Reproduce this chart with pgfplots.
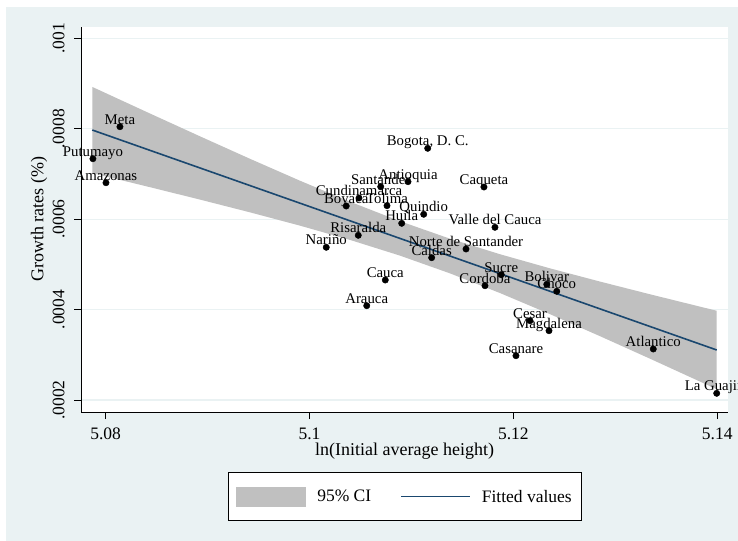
\documentclass[border=0pt]{standalone}
\usepackage{pgfplots}
\pgfplotsset{compat=1.18}
\usepackage{pgfplotstable}
\usepackage{fontspec}
\setmainfont{Liberation Serif}
\definecolor{bgc}{HTML}{EAF2F3}
\definecolor{gridc}{HTML}{EAF2F3}
\definecolor{cigray}{HTML}{C0C0C0}
\definecolor{fitc}{HTML}{1A476F}
\pgfplotstableread[col sep=semicolon]{
x;y;label
5.07875;0.0007337;Putumayo
5.08140;0.0008045;Meta
5.08003;0.0006806;Amazonas
5.11159;0.0007567;Bogota, D. C.
5.10698;0.0006718;Santander
5.10966;0.0006829;Antioquia
5.11711;0.0006711;Caqueta
5.10485;0.0006468;Cundinamarca
5.10360;0.0006291;Boyaca
5.10760;0.0006298;Tolima
5.11120;0.0006108;Quindio
5.10904;0.0005908;Huila
5.11819;0.0005820;Valle del Cauca
5.10478;0.0005643;Risaralda
5.10164;0.0005378;Nariño
5.11535;0.0005340;Norte de Santander
5.11198;0.0005148;Caldas
5.11881;0.0004772;Sucre
5.10743;0.0004654;Cauca
5.11721;0.0004528;Cordoba
5.12327;0.0004559;Bolivar
5.12425;0.0004404;Choco
5.10561;0.0004086;Arauca
5.12163;0.0003754;Cesar
5.12349;0.0003533;Magdalena
5.12025;0.0002980;Casanare
5.13372;0.0003128;Atlantico
5.13994;0.0002148;La Guajira
}\pts
\begin{document}
\begin{tikzpicture}
\path[use as bounding box, clip] (0,0) rectangle (738bp,541bp);
\fill[bgc] (6bp,0) rectangle (738bp,534bp);
\begin{axis}[
  at={(81.3bp,129bp)}, anchor=south west,
  scale only axis, width=646.7bp, height=385.3bp,
  xmin=5.07761, xmax=5.14105, ymin=0.0001735, ymax=0.0010257,
  axis x line=bottom, axis y line=left,
  axis line style={-, black, line width=0.8bp},
  axis background/.style={fill=white},
  tick align=outside, major tick length=7bp,
  tick style={black, line width=0.8bp},
  xtick={5.08,5.1,5.12,5.14}, xticklabels={5.08,5.1,5.12,5.14},
  ytick={0.0002,0.0004,0.0006,0.0008,0.001},
  yticklabels={.0002,.0004,.0006,.0008,.001},
  scaled x ticks=false, scaled y ticks=false,
  ymajorgrids, grid style={gridc, line width=1.2bp},
  ticklabel style={font=\fontsize{17.5bp}{20bp}\selectfont},
  xticklabel style={anchor=north, inner sep=0pt},
  yticklabel style={rotate=90, anchor=south, inner sep=0pt},
  xticklabel shift=8.5bp, yticklabel shift=9.5bp,
  xlabel={ln(Initial average height)},
  ylabel={Growth rates (\%)},
  label style={font=\fontsize{18bp}{20bp}\selectfont},
  xlabel style={at={(axis description cs:0.5,-0.103)}, anchor=center, inner sep=0pt},
  ylabel style={at={(axis description cs:-0.0654,0.5)}, anchor=center, inner sep=0pt},
  legend style={at={(axis description cs:0.5,-0.1565)}, anchor=north,
    legend columns=2, draw=black, line width=0.8bp, fill=white,
    inner xsep=7.5bp, inner ysep=14bp,
    font=\fontsize{17.5bp}{20bp}\selectfont,
    nodes={inner sep=2bp},
    /tikz/every odd column/.append style={column sep=9bp},
    /tikz/every even column/.append style={column sep=27bp}},
  legend cell align=left,
  clip=false,
]
\addplot[fill=cigray, draw=none,
  legend image code/.code={\fill[cigray] (0bp,-10bp) rectangle (70.7bp,10bp);}]
coordinates {
(5.078685,0.00089253) (5.084346,0.00083371) (5.089251,0.00078326)
(5.094157,0.00073351) (5.099062,0.00068505) (5.103967,0.00063862)
(5.108873,0.00059551) (5.113778,0.00055680) (5.118684,0.00052243)
(5.123589,0.00049120) (5.128494,0.00046196) (5.133400,0.00043384)
(5.139943,0.00039739)
(5.139943,0.00022389) (5.133400,0.00029140) (5.128494,0.00034123)
(5.123589,0.00038989) (5.118684,0.00043661) (5.113778,0.00048014)
(5.108873,0.00051938) (5.103967,0.00055417) (5.099062,0.00058569)
(5.094157,0.00061513) (5.089251,0.00064334) (5.084346,0.00067078)
(5.078685,0.00070190)
} -- cycle;
\addlegendentry{95\% CI}
\addplot[fitc, line width=1.6bp,
  legend image code/.code={\draw[fitc, line width=1.6bp] (0bp,0bp) -- (69bp,0bp);}]
coordinates {(5.078685,0.00079721) (5.139943,0.00031064)};
\addlegendentry{Fitted values}
\addplot[only marks, mark=*, mark size=3.2bp, black, forget plot,
  nodes near coords, point meta=explicit symbolic,
  nodes near coords style={anchor=base, inner sep=0pt, yshift=2.5bp,
    font=\fontsize{14.8bp}{16bp}\selectfont, text=black}]
  table[x=x, y=y, meta=label]{\pts};
\end{axis}
\end{tikzpicture}
\end{document}
